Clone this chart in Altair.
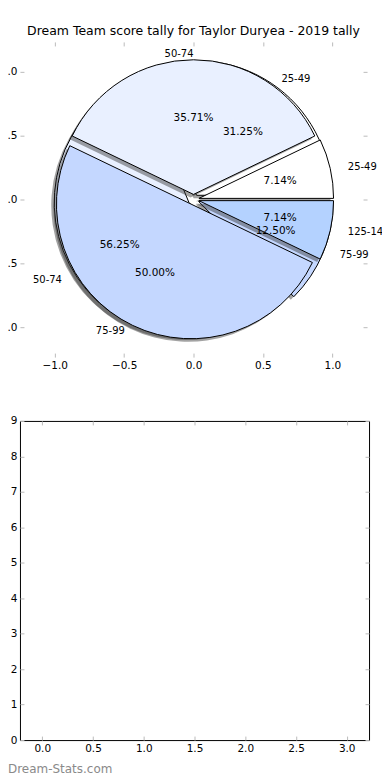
import math
import altair as alt
import pandas as pd

title_text = "Dream Team score tally for Taylor Duryea - 2019 tally"
watermark = "Dream-Stats.com"

pie1_labels = ["25-49", "50-74", "75-99", "125-149"]
pie1_counts = [1, 5, 7, 1]
pie2_labels = ["25-49", "50-74", "75-99"]
pie2_counts = [5, 9, 2]

color_domain = ["25-49", "50-74", "75-99", "125-149"]
color_range = ["#ffffff", "#e9f0ff", "#c4d7ff", "#b4d2ff"]

top_ticks = [-1.0, -0.5, 0.0, 0.5, 1.0]
bottom_x_ticks = [0.0, 0.5, 1.0, 1.5, 2.0, 2.5, 3.0]
bottom_y_ticks = [0, 1, 2, 3, 4, 5, 6, 7, 8, 9]

FONT = "DejaVu Sans"
R = 135          # pie radius in pixels
EXPLODE = 0.04   # matplotlib-style explode, data units
LABEL_DIST = 1.1
PCT_DIST = 0.6


def pie_frame(labels, counts):
    total = sum(counts)
    rows = []
    cum = 0
    for lab, c in zip(labels, counts):
        start = cum / total
        cum += c
        end = cum / total
        mid = (start + end) / 2
        rows.append(dict(label=lab, start=start, end=end, mid=mid,
                         pct=f"{100 * c / total:.2f}%",
                         side="left" if math.cos(2 * math.pi * mid) > 1e-9 else "right"))
    return pd.DataFrame(rows)


df1 = pie_frame(pie1_labels, pie1_counts)
df2 = pie_frame(pie2_labels, pie2_counts)

xs_top = alt.Scale(domain=[-1.25, 1.25], nice=False, zero=False)
ys_top = alt.Scale(domain=[-1.235, 1.235], nice=False, zero=False)
theta_scale = alt.Scale(domain=[0, 1], range=[math.pi / 2, math.pi / 2 - 2 * math.pi])
color_scale = alt.Scale(domain=color_domain, range=color_range)


def placed(df):
    return alt.Chart(df).transform_calculate(
        ex=f"{EXPLODE}*cos(2*PI*datum.mid)",
        ey=f"{EXPLODE}*sin(2*PI*datum.mid)",
        lx=f"{EXPLODE + LABEL_DIST}*cos(2*PI*datum.mid)",
        ly=f"{EXPLODE + LABEL_DIST}*sin(2*PI*datum.mid)",
        px=f"{EXPLODE + PCT_DIST}*cos(2*PI*datum.mid)",
        py=f"{EXPLODE + PCT_DIST}*sin(2*PI*datum.mid)",
    )


def pos(xf, yf):
    return dict(x=alt.X(f"{xf}:Q", scale=xs_top, axis=None),
                y=alt.Y(f"{yf}:Q", scale=ys_top, axis=None))


def pie_layers(df):
    base = placed(df)
    shadow = base.mark_arc(radius=R, color="#333333", opacity=0.45,
                           xOffset=-3, yOffset=3).encode(
        theta=alt.Theta("start:Q", scale=theta_scale), theta2="end:Q", **pos("ex", "ey"))
    wedges = base.mark_arc(radius=R, stroke="black", strokeWidth=1).encode(
        theta=alt.Theta("start:Q", scale=theta_scale), theta2="end:Q", **pos("ex", "ey"),
        color=alt.Color("label:N", scale=color_scale, legend=None))
    return [shadow, wedges]


def text_layers(df):
    base = placed(df)
    out = []
    for side in ["left", "right"]:
        out.append(base.transform_filter(alt.datum.side == side).mark_text(
            align=side, baseline="middle", fontSize=10, font=FONT, color="black").encode(
            **pos("lx", "ly"), text="label:N"))
    out.append(base.mark_text(align="center", baseline="middle", fontSize=10.5,
                              font=FONT, color="black").encode(
        **pos("px", "py"), text="pct:N"))
    return out


label_axis = dict(grid=False, domain=False, ticks=False, labelPadding=3,
                  labelFont=FONT, labelFontSize=10.5, labelColor="black", title=None)
tick_axis = dict(grid=False, domain=False, labels=False, tickColor="#bbbbbb", tickSize=4,
                 offset=-4, title=None)


def axis_layers(df, xcol, ycol, xs, ys, xvals, yvals, xfmt, yfmt):
    base = alt.Chart(df).mark_point(opacity=0)
    lab = base.encode(
        x=alt.X(f"{xcol}:Q", scale=xs, axis=alt.Axis(values=xvals, format=xfmt, **label_axis)),
        y=alt.Y(f"{ycol}:Q", scale=ys, axis=alt.Axis(values=yvals, format=yfmt, **label_axis)))
    t1 = base.encode(
        x=alt.X(f"{xcol}:Q", scale=xs, axis=alt.Axis(values=xvals, orient="bottom", **tick_axis)),
        y=alt.Y(f"{ycol}:Q", scale=ys, axis=alt.Axis(values=yvals, orient="left", **tick_axis)))
    t2 = base.encode(
        x=alt.X(f"{xcol}:Q", scale=xs, axis=alt.Axis(values=xvals, orient="top", **tick_axis)),
        y=alt.Y(f"{ycol}:Q", scale=ys, axis=alt.Axis(values=yvals, orient="right", **tick_axis)))
    return [lab, t1, t2]


tick_df = pd.DataFrame({"v": top_ticks})

top = alt.layer(
    *axis_layers(tick_df, "v", "v", xs_top, ys_top, top_ticks, top_ticks, ".1f", ".1f"),
    *pie_layers(df2), *pie_layers(df1),
    *text_layers(df2), *text_layers(df1),
).resolve_axis(x="independent", y="independent").properties(
    width=348, height=316,
    title=alt.TitleParams(title_text, font=FONT, fontSize=12.5, fontWeight="normal",
                          anchor="middle", color="black", offset=4),
)

xs_bot = alt.Scale(domain=[-0.22, 3.22], nice=False, zero=False)
ys_bot = alt.Scale(domain=[0, 9], nice=False, zero=False)
bx_df = pd.DataFrame({"x": bottom_x_ticks[:2], "y": bottom_y_ticks[:2]})
wm = alt.Chart(pd.DataFrame({"t": [watermark]})).mark_text(
    align="left", baseline="middle", fontSize=12, font=FONT, color="#8a8a8a").encode(
    x=alt.value(-12), y=alt.value(349), text="t:N")

bottom = alt.layer(
    *axis_layers(bx_df, "x", "y", xs_bot, ys_bot, bottom_x_ticks, bottom_y_ticks, ".1f", "d"),
    wm,
).resolve_axis(x="independent", y="independent").properties(
    width=350, height=320, view=alt.ViewBackground(stroke="black", strokeWidth=1))

chart = alt.vconcat(top, bottom, spacing=44).properties(
    padding={"left": -17, "top": 16, "right": -8, "bottom": 0}
).configure_view(stroke=None)

chart.save("out.html", embed_options={"renderer": "svg", "actions": False})
